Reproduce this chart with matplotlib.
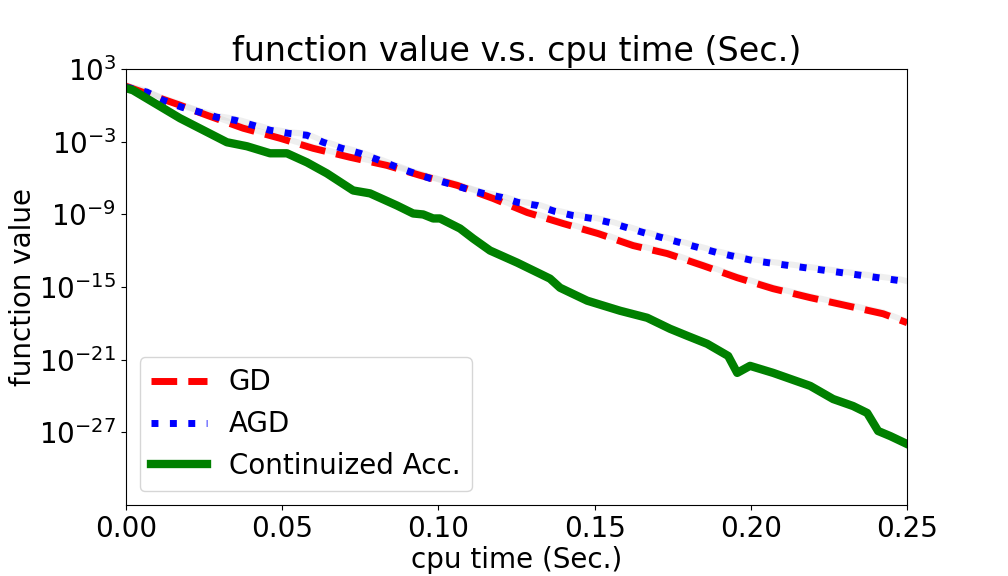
import numpy as np
import matplotlib.pyplot as plt
from matplotlib.ticker import NullLocator

# values (x in seconds, y as log10 of function value)
gd_t = [0, 0.0035, 0.0173, 0.0259, 0.0375, 0.0493, 0.0599, 0.0717, 0.0835, 0.0941,
        0.1060, 0.1175, 0.1284, 0.1399, 0.1511, 0.1623, 0.1732, 0.1847, 0.1956,
        0.2071, 0.2190, 0.2308, 0.2423, 0.25]
gd_log = [1.59, 1.26, 0.02, -0.81, -1.88, -2.71, -3.54, -4.28, -4.95, -5.77,
          -6.60, -7.68, -8.84, -9.75, -10.58, -11.57, -12.23, -13.23, -14.22,
          -15.13, -15.87, -16.54, -17.20, -17.94]

agd_t = [0, 0.0067, 0.0118, 0.0179, 0.0237, 0.0291, 0.0349, 0.0407, 0.0461, 0.0519,
         0.0579, 0.0631, 0.0691, 0.0749, 0.0803, 0.0861, 0.0915, 0.0973, 0.1031,
         0.1085, 0.1143, 0.1204, 0.1255, 0.1316, 0.1373, 0.1431, 0.1492, 0.1549,
         0.1655, 0.1773, 0.1892, 0.2007, 0.2125, 0.2244, 0.2359, 0.2478, 0.25]
agd_log = [1.51, 1.10, 0.43, -0.15, -0.56, -0.97, -1.22, -1.64, -2.05, -2.30,
           -2.46, -3.04, -3.54, -3.95, -4.45, -5.03, -5.53, -6.02, -6.44,
           -6.85, -7.26, -7.60, -8.01, -8.26, -8.75, -9.09, -9.33, -9.67,
           -10.49, -11.32, -12.15, -12.81, -13.23, -13.64, -14.05, -14.47, -14.63]

acc_t = [0, 0.0022, 0.0173, 0.0323, 0.0387, 0.0461, 0.0515, 0.0579, 0.0643, 0.0727,
         0.0781, 0.0867, 0.0919, 0.0951, 0.0983, 0.1005, 0.1069, 0.1111, 0.1165,
         0.1252, 0.1357, 0.1389, 0.1476, 0.1581, 0.1668, 0.1741, 0.1796, 0.1860,
         0.1927, 0.1956, 0.1997, 0.2071, 0.2190, 0.2263, 0.2327, 0.2372, 0.2407,
         0.2446, 0.25]
acc_log = [1.43, 1.26, -1.06, -3.04, -3.37, -3.95, -3.95, -4.70, -5.61, -7.02,
           -7.26, -8.26, -8.92, -9.00, -9.33, -9.33, -10.16, -10.99, -11.98,
           -12.98, -14.30, -15.05, -16.12, -16.95, -17.53, -18.44, -19.02, -19.68,
           -20.68, -22.08, -21.50, -22.08, -23.16, -24.24, -24.82, -25.39, -26.88,
           -27.30, -27.96]

plt.rcParams['font.size'] = 20

fig = plt.figure(figsize=(10.08, 5.76), dpi=100)
ax = fig.add_axes([0.125, 0.123, 0.775, 0.757])

series = [
    (gd_t, gd_log, 'red', '--', 5, 'GD'),
    (agd_t, agd_log, 'blue', ':', 5, 'AGD'),
    (acc_t, acc_log, 'green', '-', 6, 'Continuized Acc.'),
]
for t, lg, c, ls, lw, lab in series:
    t = np.array(t)
    y = 10.0 ** np.array(lg)
    # faint spread band behind each curve
    ax.fill_between(t, y / 1.3, y * 2.5, color='lightgray', alpha=0.35, lw=0)
    ax.plot(t, y, color=c, linestyle=ls, linewidth=lw, label=lab)

ax.set_yscale('log')
ax.set_xlim(0, 0.25)
ax.set_ylim(1e-33, 1e3)
ax.set_yticks([1e3, 1e-3, 1e-9, 1e-15, 1e-21, 1e-27])
ax.yaxis.set_minor_locator(NullLocator())
ax.set_xticks([0, 0.05, 0.10, 0.15, 0.20, 0.25])
ax.set_xticklabels(['0.00', '0.05', '0.10', '0.15', '0.20', '0.25'])

ax.set_title('function value v.s. cpu time (Sec.)', fontsize=24)
ax.set_xlabel('cpu time (Sec.)', labelpad=2)
ax.set_ylabel('function value', labelpad=2)
ax.legend(loc='lower left')

fig.savefig('out.png')
